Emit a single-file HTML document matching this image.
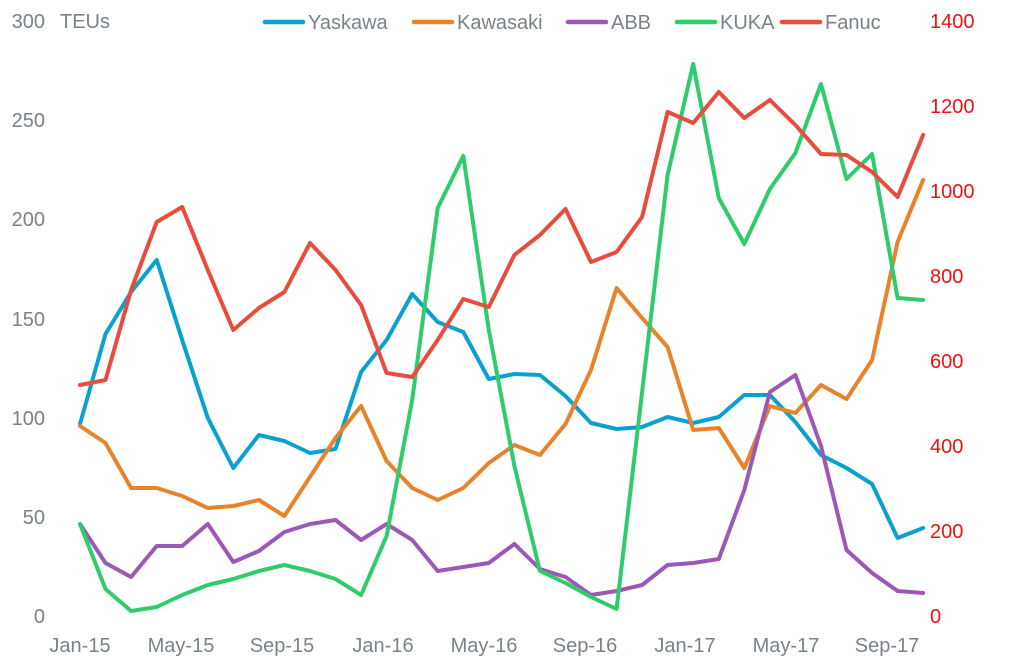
<!DOCTYPE html>
<html><head><meta charset="utf-8"><style>
html,body{margin:0;padding:0;background:#fff;}
svg{display:block;font-family:"Liberation Sans",sans-serif;}
</style></head><body>
<svg id="c" width="1012" height="664" viewBox="0 0 1012 664" xmlns="http://www.w3.org/2000/svg">
<g font-size="20" fill="#7a8288" text-anchor="end">
<text x="45" y="28">300</text><text x="45" y="127">250</text><text x="45" y="226">200</text>
<text x="45" y="326">150</text><text x="45" y="425">100</text><text x="45" y="524">50</text><text x="45" y="623">0</text>
</g>
<text x="60" y="28" font-size="20" fill="#7a8288">TEUs</text>
<g font-size="20" fill="#ee1111" text-anchor="start">
<text x="930" y="28">1400</text><text x="930" y="113">1200</text><text x="930" y="198">1000</text>
<text x="930" y="283">800</text><text x="930" y="368">600</text><text x="930" y="453">400</text>
<text x="930" y="538">200</text><text x="930" y="623">0</text>
</g>
<g font-size="20" fill="#7a8288" text-anchor="middle">
<text x="80" y="652">Jan-15</text><text x="181" y="652">May-15</text><text x="282" y="652">Sep-15</text>
<text x="383" y="652">Jan-16</text><text x="484" y="652">May-16</text><text x="585" y="652">Sep-16</text>
<text x="685" y="652">Jan-17</text><text x="786" y="652">May-17</text><text x="887" y="652">Sep-17</text>
</g>
<g stroke-width="4.5" stroke-linecap="round">
<line x1="265" y1="22" x2="303" y2="22" stroke="#0aa0cf"/>
<line x1="414" y1="22" x2="452" y2="22" stroke="#e8832a"/>
<line x1="568" y1="22" x2="606" y2="22" stroke="#9b59b6"/>
<line x1="677" y1="22" x2="715" y2="22" stroke="#2fcc6c"/>
<line x1="782" y1="22" x2="820" y2="22" stroke="#e84c3d"/>
</g>
<g font-size="20" fill="#7a8288">
<text x="308" y="29">Yaskawa</text><text x="457" y="29">Kawasaki</text><text x="611" y="29">ABB</text>
<text x="720" y="29">KUKA</text><text x="825" y="29">Fanuc</text>
</g>
<g id="lines" fill="none" stroke-width="4" stroke-linejoin="round" stroke-linecap="round"></g>
</svg>
<script>
var S=[
["#0aa0cf",[424,334,292,260,340,418,468,435,441,453,449,372,340,294,322,332,379,374,375,396,423,429,427,417,423,417,395,395,422,455,468,484,538,528]],
["#e8832a",[426,443,488,488,496,508,506,500,516,477,438,406,461,488,500,488,463,445,455,424,370,288,318,347,430,428,468,406,413,385,399,360,242,180]],
["#9b59b6",[524,563,577,546,546,524,562,551,532,524,520,540,524,540,571,567,563,544,569,577,595,591,585,565,563,559,490,392,375,446,550,573,591,593]],
["#2fcc6c",[524,589,611,607,595,585,579,571,565,571,579,595,536,400,208,156,330,466,571,583,597,609,392,175,64,198,244,189,153,84,179,154,298,300]],
["#e84c3d",[385,380,290,222,207,270,330,308,292,243,270,305,373,377,340,299,307,255,235,209,262,252,217,112,123,92,118,100,125,154,155,172,197,135]]
];
var g=document.getElementById("lines"),h="";
S.forEach(function(s){var p=s[1].map(function(y,i){return (80+25.55*i).toFixed(1)+","+y;}).join(" ");
h+='<polyline stroke="'+s[0]+'" points="'+p+'"/>';});
g.innerHTML=h;
</script>
</body></html>
